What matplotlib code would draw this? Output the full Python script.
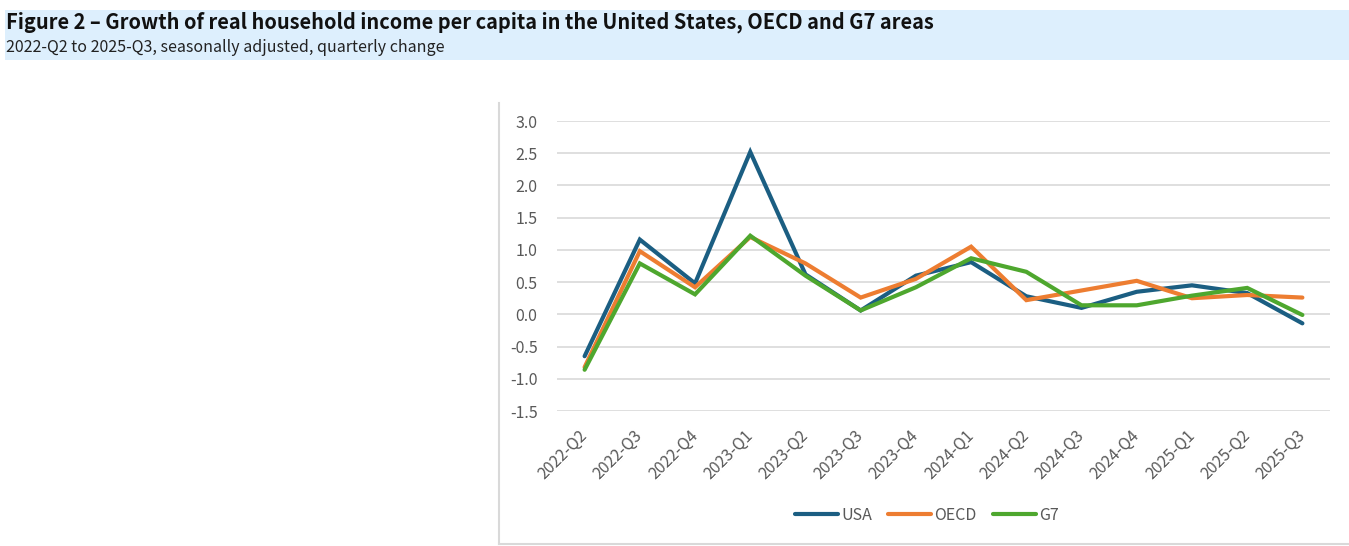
import matplotlib
matplotlib.use("Agg")
import matplotlib.pyplot as plt
from matplotlib.patches import Rectangle
from matplotlib.lines import Line2D

quarters = ["2022-Q2", "2022-Q3", "2022-Q4", "2023-Q1", "2023-Q2", "2023-Q3", "2023-Q4",
            "2024-Q1", "2024-Q2", "2024-Q3", "2024-Q4", "2025-Q1", "2025-Q2", "2025-Q3"]
usa = [-0.65, 1.16, 0.48, 2.52, 0.62, 0.06, 0.60, 0.81, 0.28, 0.10, 0.35, 0.45, 0.33, -0.14]
oecd = [-0.82, 0.98, 0.42, 1.20, 0.79, 0.26, 0.55, 1.05, 0.22, 0.37, 0.52, 0.25, 0.30, 0.26]
g7 = [-0.86, 0.79, 0.31, 1.22, 0.60, 0.06, 0.42, 0.87, 0.66, 0.14, 0.14, 0.29, 0.41, -0.01]
series_names = ["USA", "OECD", "G7"]
colors = ["#1B5E82", "#ED7D31", "#4EA72E"]
yticks = [-1.5, -1.0, -0.5, 0.0, 0.5, 1.0, 1.5, 2.0, 2.5, 3.0]

title = "Figure 2 \u2013 Growth of real household income per capita in the United States, OECD and G7 areas"
subtitle = "2022-Q2 to 2025-Q3, seasonally adjusted, quarterly change"

plt.rcParams["font.family"] = ["Noto Sans CJK JP", "DejaVu Sans"]

W, H = 1349, 546
fig = plt.figure(figsize=(W / 100, H / 100), dpi=100)

# Title banner
fig.patches.append(Rectangle((5 / W, 1 - 60 / H), (W - 5) / W, 50 / H,
                             transform=fig.transFigure, facecolor="#DDEFFD",
                             edgecolor="none", zorder=0))
fig.text(6 / W, 1 - 22 / H, title, fontsize=14.4, fontweight="bold", color="#111111",
         va="center", ha="left")
fig.text(6 / W, 1 - 47 / H, subtitle, fontsize=11.5, color="#222222", va="center", ha="left")

# Chart box border (left and bottom)
fig.add_artist(Line2D([499 / W, 499 / W], [1 - 103 / H, 1 - 544 / H],
                      transform=fig.transFigure, color="#D9D9D9", lw=1.5))
fig.add_artist(Line2D([499 / W, 1.0], [1 - 544 / H, 1 - 544 / H],
                      transform=fig.transFigure, color="#D9D9D9", lw=1.5))

ax = fig.add_axes([557 / W, 1 - 411 / H, (1330 - 557) / W, (411 - 121) / H])
x = list(range(len(quarters)))
for vals, name, c in zip([usa, oecd, g7], series_names, colors):
    ax.plot(x, vals, color=c, lw=3.0, label=name, solid_capstyle="round",
            solid_joinstyle="miter")

ax.set_xlim(-0.5, len(quarters) - 0.5)
ax.set_ylim(-1.5, 3.0)
ax.set_yticks(yticks)
ax.set_yticklabels([f"{v:.1f}" for v in yticks])
ax.yaxis.grid(True, color="#D9D9D9", lw=1.2)
ax.set_axisbelow(True)
for s in ax.spines.values():
    s.set_visible(False)
ax.tick_params(axis="both", length=0, labelsize=11.5, labelcolor="#595959")
ax.tick_params(axis="y", pad=14)
ax.set_xticks(x)
ax.set_xticklabels(quarters, rotation=45, ha="right", va="center", rotation_mode="anchor")
ax.tick_params(axis="x", pad=16)

fig.legend(loc="center", bbox_to_anchor=(927 / W, 1 - 515 / H), ncol=3, frameon=False,
           fontsize=11.5, handlelength=2.7, columnspacing=1.0, handletextpad=0.2,
           labelcolor="#595959")

fig.savefig("out.png", dpi=100)
